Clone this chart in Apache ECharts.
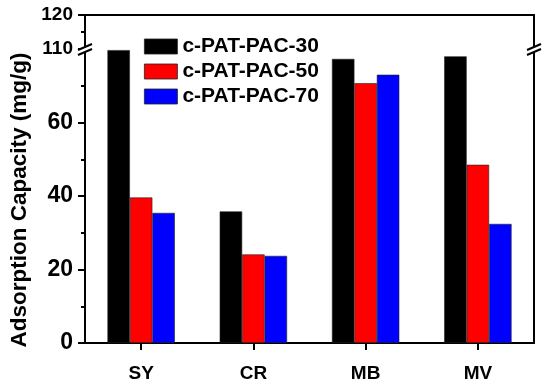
<!DOCTYPE html>
<html><head><meta charset="utf-8">
<script src="https://cdn.jsdelivr.net/npm/echarts@6/dist/echarts.min.js"></script>
<style>html,body{margin:0;padding:0;background:#fff}#c{width:550px;height:389px}</style>
</head><body><div id="c"></div>
<script>
const categories = ['SY', 'CR', 'MB', 'MV'];
const seriesNames = ['c-PAT-PAC-30', 'c-PAT-PAC-50', 'c-PAT-PAC-70'];
const pac30 = [79.7, 35.8, 77.3, 78.0];
const pac50 = [39.6, 24.1, 70.7, 48.5];
const pac70 = [35.4, 23.7, 73.0, 32.4];
const lowerTicks = [0, 20, 40, 60];
const upperTicks = [110, 120];
const colors = ['#000000', '#ff0000', '#0000ff'];

const FONT = 'Liberation Sans, Arial, sans-serif';
const L = 85, R = 16, TOP = 15, BREAK = 49, BOTTOM = 46;
const chart = echarts.init(document.getElementById('c'), null, {renderer: 'canvas'});
const axisLine = {show: true, lineStyle: {color: '#000', width: 2}};
const values = [pac30, pac50, pac70];

const series = values.map((d, i) => ({
  name: seriesNames[i], type: 'bar', xAxisIndex: 0, yAxisIndex: 0,
  data: d, barGap: '0%', barCategoryGap: '40%',
  itemStyle: {color: colors[i], borderColor: '#222', borderWidth: 0.6}
}));
series.push({type: 'bar', xAxisIndex: 1, yAxisIndex: 2, data: [], silent: true});

chart.setOption({
  animation: false,
  grid: [
    {left: L, right: R, top: BREAK, bottom: BOTTOM},
    {left: L, right: R, top: TOP, height: BREAK - TOP}
  ],
  legend: {
    orient: 'vertical', left: 144, top: 36, padding: 0, itemWidth: 33, itemHeight: 15, itemGap: 4,
    icon: 'rect', data: seriesNames,
    textStyle: {fontFamily: FONT, fontWeight: 'bold', fontSize: 21, color: '#000', padding: [0, 0, 0, 0]},
    itemStyle: {borderColor: '#222', borderWidth: 0.8}
  },
  xAxis: [
    {type: 'category', gridIndex: 0, data: categories, axisLine: axisLine,
     axisTick: {show: true, alignWithLabel: true, length: 7, lineStyle: {color: '#000', width: 2}},
     axisLabel: {fontFamily: FONT, fontWeight: 'bold', fontSize: 19, color: '#000', margin: 21}},
    {type: 'category', gridIndex: 1, data: categories, position: 'top', axisLine: axisLine,
     axisTick: {show: false}, axisLabel: {show: false}}
  ],
  yAxis: [
    {type: 'value', gridIndex: 0, min: 0, max: 80, interval: 20, splitLine: {show: false},
     axisLine: axisLine,
     axisTick: {show: true, length: 7, customValues: lowerTicks, lineStyle: {color: '#000', width: 2}},
     minorTick: {show: true, splitNumber: 2, length: 4, lineStyle: {color: '#000', width: 2}},
     axisLabel: {customValues: lowerTicks, fontFamily: FONT, fontWeight: 'bold', fontSize: 23, color: '#000', margin: 12}},
    {type: 'value', gridIndex: 0, position: 'right', min: 0, max: 80, interval: 20,
     axisLine: axisLine, axisTick: {show: false}, axisLabel: {show: false}, splitLine: {show: false}},
    {type: 'value', gridIndex: 1, min: 110, max: 120, interval: 10, splitLine: {show: false},
     axisLine: axisLine,
     axisTick: {show: true, length: 7, customValues: upperTicks, lineStyle: {color: '#000', width: 2}},
     minorTick: {show: true, splitNumber: 2, length: 4, lineStyle: {color: '#000', width: 2}},
     axisLabel: {customValues: upperTicks, fontFamily: FONT, fontWeight: 'bold', fontSize: 19, color: '#000', margin: 12}},
    {type: 'value', gridIndex: 1, position: 'right', min: 110, max: 120,
     axisLine: axisLine, axisTick: {show: false}, axisLabel: {show: false}, splitLine: {show: false}}
  ],
  series: series
});

// axis-break marks and rotated y title
const W = 550;
function breakMarks(x) {
  return [-2, 3].map(dy => ({
    type: 'line', shape: {x1: x - 7, y1: BREAK + dy + 3, x2: x + 7, y2: BREAK + dy - 3},
    style: {stroke: '#000', lineWidth: 2}, z: 100
  }));
}
function breakGap(x) {
  return {type: 'polygon', shape: {points: [[x - 7, BREAK + 1], [x + 7, BREAK - 5], [x + 7, BREAK], [x - 7, BREAK + 6]]},
    style: {fill: '#fff'}, z: 99};
}
chart.setOption({
  graphic: [
    breakGap(L), breakGap(W - R), ...breakMarks(L), ...breakMarks(W - R),
    {type: 'text', x: 20, y: 200, rotation: Math.PI / 2,
     style: {text: 'Adsorption Capacity (mg/g)', fontFamily: FONT, fontWeight: 'bold', fontSize: 22.5,
             fill: '#000', align: 'center', verticalAlign: 'middle'}}
  ]
});
</script></body></html>
